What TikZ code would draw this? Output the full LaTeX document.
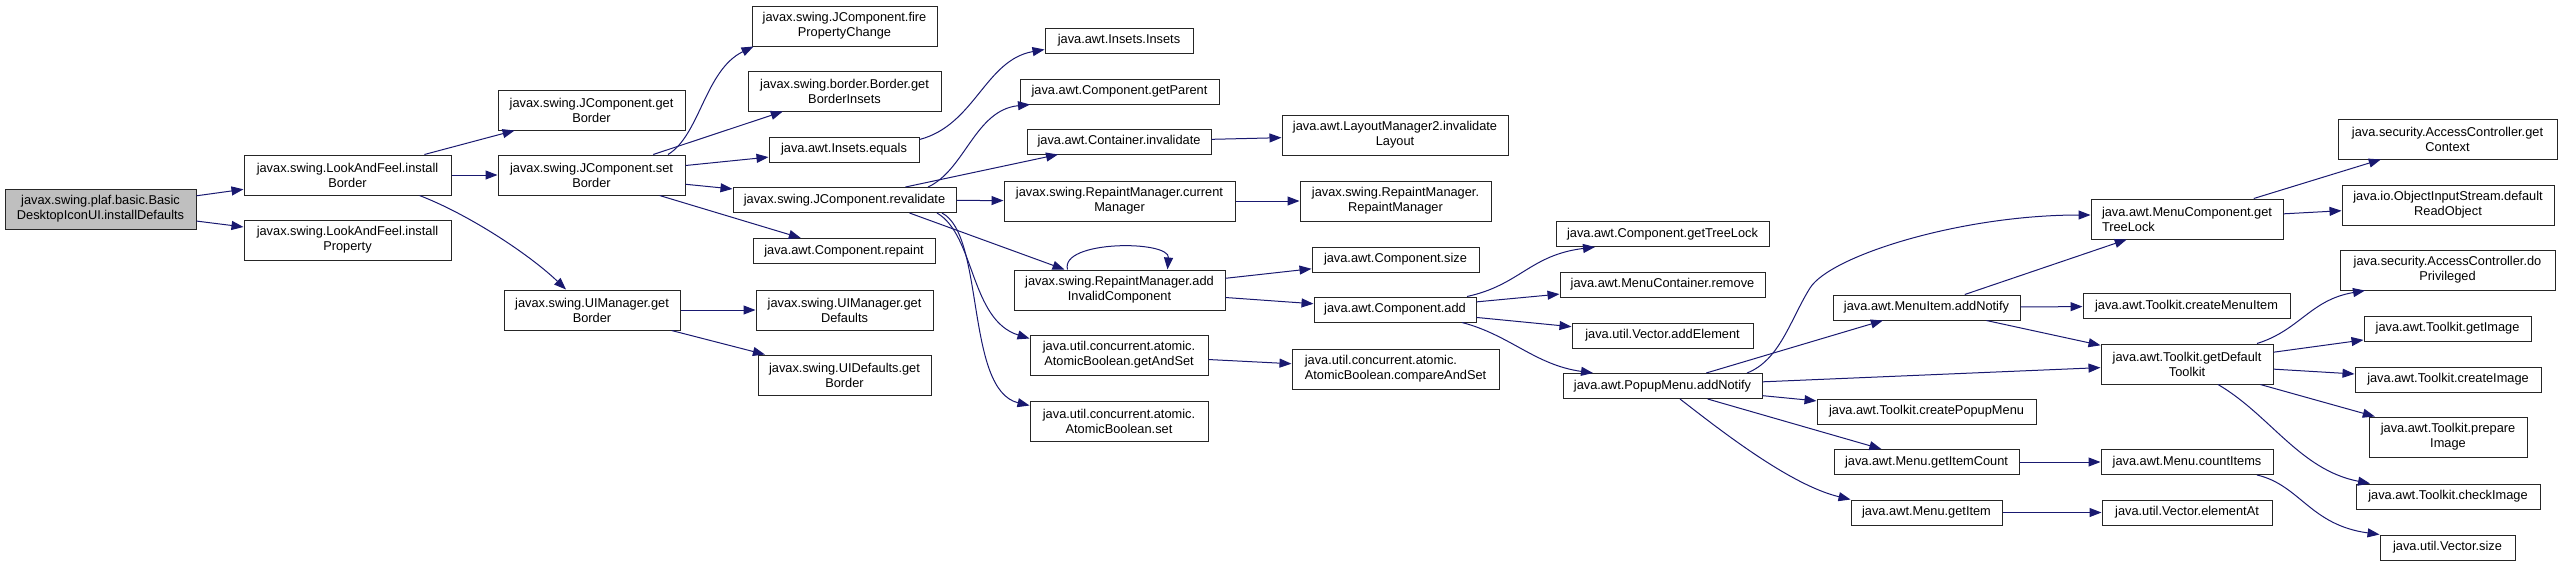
\documentclass[tikz,border=0pt]{standalone}
\usepackage{fontspec}
\setmainfont{Liberation Sans}
\usetikzlibrary{arrows.meta}
\definecolor{edgec}{HTML}{191970}
\definecolor{rootc}{HTML}{BFBFBF}
\tikzset{
  fn/.style={draw=black!85, line width=1pt, fill=white, rectangle, inner sep=0pt, align=center, font=\fontsize{12.8}{15}\selectfont},
  ed/.style={draw=edgec, line width=1pt, -{Triangle[length=12pt,width=9pt]}}
}
\newcommand\nd[7][]{\node[fn,minimum width=#5pt,minimum height=#6pt,#1] (#2) at (#3,#4) {#7};}
\begin{document}
\begin{tikzpicture}[x=1pt,y=-1pt]
\useasboundingbox (0,0) rectangle (2563,566);
% nodes
\nd[fill=rootc]{root}{100.5}{209}{191}{40}{javax.swing.plaf.basic.Basic\\DesktopIconUI.installDefaults}
\nd{ib}{347.5}{175}{207}{40}{javax.swing.LookAndFeel.install\\Border}
\nd{ip}{347.5}{240}{207}{40}{javax.swing.LookAndFeel.install\\Property}
\nd{jgb}{591.5}{110}{187}{40}{javax.swing.JComponent.get\\Border}
\nd{jsb}{591.5}{175}{187}{40}{javax.swing.JComponent.set\\Border}
\nd{ugb}{592}{310}{176}{40}{javax.swing.UIManager.get\\Border}
\nd{fpc}{844.5}{26}{185}{40}{javax.swing.JComponent.fire\\PropertyChange}
\nd{gbi}{844.5}{91}{193}{40}{javax.swing.border.Border.get\\BorderInsets}
\nd{ieq}{844}{149.5}{150}{25}{java.awt.Insets.equals}
\nd{rev}{844.5}{200}{223}{25}{javax.swing.JComponent.revalidate}
\nd{rep}{844}{251}{182}{25}{java.awt.Component.repaint}
\nd{ugd}{844.5}{310}{177}{40}{javax.swing.UIManager.get\\Defaults}
\nd{udg}{844.5}{375}{173}{40}{javax.swing.UIDefaults.get\\Border}
\nd{ins}{1119}{40.5}{148}{25}{java.awt.Insets.Insets}
\nd{gpa}{1119.5}{91.5}{199}{25}{java.awt.Component.getParent}
\nd{cinv}{1119}{141.5}{184}{25}{java.awt.Container.invalidate}
\nd{cm}{1119.5}{201}{231}{40}{javax.swing.RepaintManager.current\\Manager}
\nd{aic}{1119.5}{290}{211}{40}{javax.swing.RepaintManager.add\\InvalidComponent}
\nd{gas}{1119}{355}{178}{40}{java.util.concurrent.atomic.\\AtomicBoolean.getAndSet}
\nd{abs}{1119}{421}{178}{40}{java.util.concurrent.atomic.\\AtomicBoolean.set}
\nd{lm}{1395}{135}{226}{40}{java.awt.LayoutManager2.invalidate\\Layout}
\nd{rmrm}{1395.5}{201}{191}{40}{javax.swing.RepaintManager.\\RepaintManager}
\nd{csz}{1395.5}{259.5}{167}{25}{java.awt.Component.size}
\nd{cadd}{1395}{309.5}{162}{25}{java.awt.Component.add}
\nd[align=left]{cas}{1395.5}{369}{207}{40}{java.util.concurrent.atomic.\\AtomicBoolean.compareAndSet}
\nd{gtl}{1662.5}{234}{213}{25}{java.awt.Component.getTreeLock}
\nd{mcr}{1662.5}{284.5}{205}{25}{java.awt.MenuContainer.remove}
\nd{vae}{1662.5}{335.5}{181}{25}{java.util.Vector.addElement}
\nd{pan}{1662.5}{386}{199}{25}{java.awt.PopupMenu.addNotify}
\nd{mian}{1926.5}{307.5}{187}{25}{java.awt.MenuItem.addNotify}
\nd{tcpm}{1926.5}{411.5}{219}{25}{java.awt.Toolkit.createPopupMenu}
\nd{mgic}{1926.5}{462}{185}{25}{java.awt.Menu.getItemCount}
\nd{mgi}{1926.5}{512.5}{151}{25}{java.awt.Menu.getItem}
\nd[align=left]{mctl}{2187}{219}{192}{40}{java.awt.MenuComponent.get\\TreeLock}
\nd{tcmi}{2186.5}{306}{207}{25}{java.awt.Toolkit.createMenuItem}
\nd{tgdt}{2187}{364}{172}{40}{java.awt.Toolkit.getDefault\\Toolkit}
\nd{mci}{2187}{462}{172}{25}{java.awt.Menu.countItems}
\nd{vea}{2187}{512.5}{170}{25}{java.util.Vector.elementAt}
\nd{agc}{2447.5}{139}{219}{40}{java.security.AccessController.get\\Context}
\nd{dro}{2448}{205}{212}{40}{java.io.ObjectInputStream.default\\ReadObject}
\nd{dop}{2447.5}{270}{215}{40}{java.security.AccessController.do\\Privileged}
\nd{tgi}{2447.5}{328.5}{167}{25}{java.awt.Toolkit.getImage}
\nd{tci}{2448}{379.5}{186}{25}{java.awt.Toolkit.createImage}
\nd{tpi}{2448}{437}{158}{40}{java.awt.Toolkit.prepare\\Image}
\nd{tchk}{2448}{496.5}{184}{25}{java.awt.Toolkit.checkImage}
\nd{vsz}{2447.5}{547.5}{135}{25}{java.util.Vector.size}
% straight edges
\foreach \a/\b in {root/ib, root/ip, ib/jgb, ib/jsb, jsb/gbi, jsb/ieq, jsb/rev, jsb/rep,
  ugb/ugd, ugb/udg, rev/cinv, rev/cm, cinv/lm, cm/rmrm, aic/csz, aic/cadd, gas/cas,
  cadd/mcr, cadd/vae, pan/mian, pan/tgdt, pan/tcpm, pan/mgic, mian/mctl, mian/tcmi,
  mian/tgdt, mgic/mci, mgi/vea, mctl/agc, mctl/dro, tgdt/tgi, tgdt/tci, tgdt/tpi}
  \draw[ed] (\a) -- (\b);
% curved edges
\draw[ed] ([xshift=72pt]ib.south) .. controls (470,215) and (530,255) .. ([xshift=-26pt]ugb.north);
\draw[ed] ([xshift=76.5pt]jsb.north) .. controls (700,135) and (705,70) .. ([xshift=2pt]fpc.south west);
\draw[ed] ([yshift=10pt]ieq.east) .. controls (975,125) and (985,60) .. ([yshift=-9pt]ins.west);
\draw[ed] ([xshift=83.5pt]rev.north) .. controls (965,170) and (975,110) .. ([xshift=-89.5pt]gpa.south);
\draw[ed] ([xshift=65pt]rev.south) -- ([xshift=-55pt]aic.north);
\draw[ed] ([xshift=92.5pt]rev.south) .. controls (975,235) and (970,320) .. ([yshift=-4pt]gas.north west);
\draw[ed] ([xshift=97.5pt]rev.south) .. controls (985,235) and (965,390) .. ([yshift=-5pt]abs.north west);
\draw[ed] ([xshift=-52pt]aic.north) .. controls (1060,240) and (1170,240) .. ([xshift=48pt]aic.north);
\draw[ed] ([xshift=72pt]cadd.north) .. controls (1520,285) and (1530,255) .. ([xshift=-67.5pt]gtl.south);
\draw[ed] ([xshift=67pt]cadd.south) .. controls (1510,335) and (1535,365) .. ([xshift=-69.5pt]pan.north);
\draw[ed] ([xshift=84.5pt]pan.north) .. controls (1780,360) and (1790,320) .. (1810,288)
  .. controls (1830,256) and (1960,215) .. ([yshift=4pt]mctl.west);
\draw[ed] ([xshift=17.5pt]pan.south) .. controls (1720,430) and (1790,485) .. (mgi.north west);
\draw[ed] ([xshift=70pt]tgdt.north) .. controls (2300,330) and (2310,300) .. ([xshift=-82.5pt]dop.south);
\draw[ed] ([xshift=31pt]tgdt.south) .. controls (2270,415) and (2300,470) .. ([xshift=-78pt]tchk.north);
\draw[ed] ([xshift=70pt]mci.south) .. controls (2300,485) and (2310,525) .. ([xshift=-68pt]vsz.north);
\end{tikzpicture}
\end{document}
